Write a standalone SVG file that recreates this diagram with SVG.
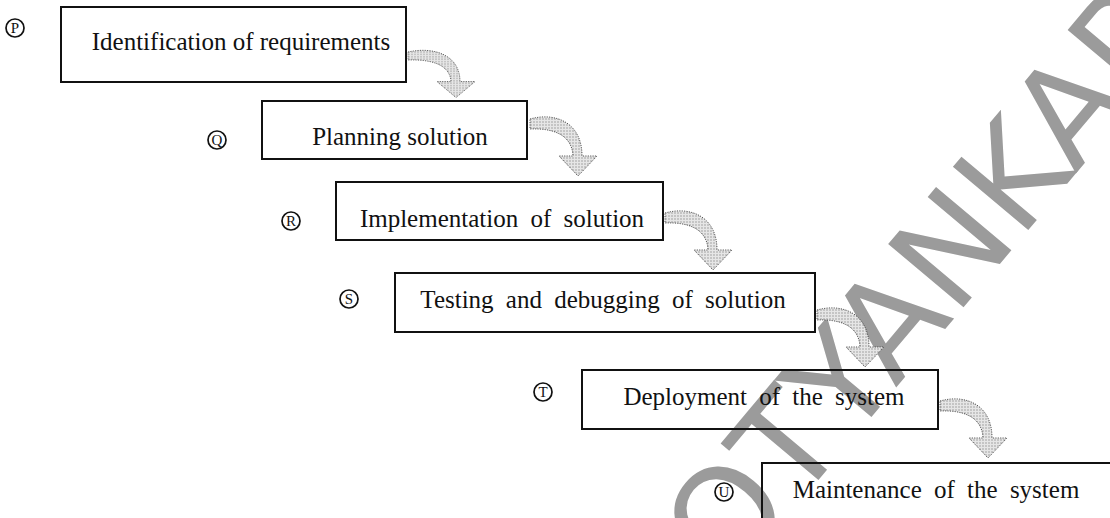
<svg xmlns="http://www.w3.org/2000/svg" width="1110" height="518" viewBox="0 0 1110 518">
<style>
.box{fill:none;stroke:#111;stroke-width:2}
.lbl{font-family:"Liberation Serif","Times New Roman",serif;font-size:25px;fill:#111}
.wide{word-spacing:6px}
.cl{fill:none;stroke:#111;stroke-width:1.7}
.ct{font-family:"Liberation Serif","Times New Roman",serif;font-size:15px;fill:#111;text-anchor:middle}
.arr{fill:url(#dots);stroke:#444;stroke-width:0.9;stroke-dasharray:1.2 1.2}
.wm{font-family:"DejaVu Sans",sans-serif;font-size:135px;fill:#9b9b9b}
</style>
<defs>
<pattern id="dots" width="3" height="3" patternUnits="userSpaceOnUse">
<rect width="3" height="3" fill="#e6e6e6"/>
<circle cx="1" cy="1" r="0.7" fill="#8a8a8a"/>
</pattern>
<path id="arrow" d="M0,-5 C25,-12 52,-2 52,32 L67,32 L48,52 L29,32 L43,32 C42,10 22,4 0,5 Z"/>
</defs>
<rect width="1110" height="518" fill="#fff"/>

<text class="wm" transform="translate(728,588) rotate(-50)">OTYANKAR</text>

<g id="connectors">
<use href="#arrow" class="arr" transform="translate(408,56) scale(1,0.8)"/>
<use href="#arrow" class="arr" transform="translate(530,124)"/>
<use href="#arrow" class="arr" transform="translate(665,218)"/>
<use href="#arrow" class="arr" transform="translate(817,315)"/>
<use href="#arrow" class="arr" transform="translate(940,406)"/>
</g>

<g id="nodeP">
<circle class="cl" cx="15" cy="28" r="9"/><text class="ct" x="15" y="33">P</text>
<rect class="box" x="61" y="7" width="345" height="75"/>
<text class="lbl" x="241" y="50" text-anchor="middle">Identification of requirements</text>
</g>
<g id="nodeQ">
<circle class="cl" cx="217" cy="140" r="9"/><text class="ct" x="217" y="145">Q</text>
<rect class="box" x="262" y="101" width="265" height="58"/>
<text class="lbl" x="400" y="145" text-anchor="middle">Planning solution</text>
</g>
<g id="nodeR">
<circle class="cl" cx="291" cy="221" r="9"/><text class="ct" x="291" y="226">R</text>
<rect class="box" x="336" y="182" width="327" height="58"/>
<text class="lbl wide" x="502" y="227" text-anchor="middle">Implementation of solution</text>
</g>
<g id="nodeS">
<circle class="cl" cx="349" cy="299" r="9"/><text class="ct" x="349" y="304">S</text>
<rect class="box" x="395" y="273" width="420" height="59"/>
<text class="lbl wide" x="603" y="308" text-anchor="middle">Testing and debugging of solution</text>
</g>
<g id="nodeT">
<circle class="cl" cx="543" cy="392" r="9"/><text class="ct" x="543" y="397">T</text>
<rect class="box" x="582" y="370" width="356" height="59"/>
<text class="lbl wide" x="764" y="405" text-anchor="middle">Deployment of the system</text>
</g>
<g id="nodeU">
<circle class="cl" cx="724" cy="492" r="9"/><text class="ct" x="724" y="497">U</text>
<rect class="box" x="762" y="463" width="360" height="70"/>
<text class="lbl wide" x="936" y="498" text-anchor="middle">Maintenance of the system</text>
</g>
</svg>
